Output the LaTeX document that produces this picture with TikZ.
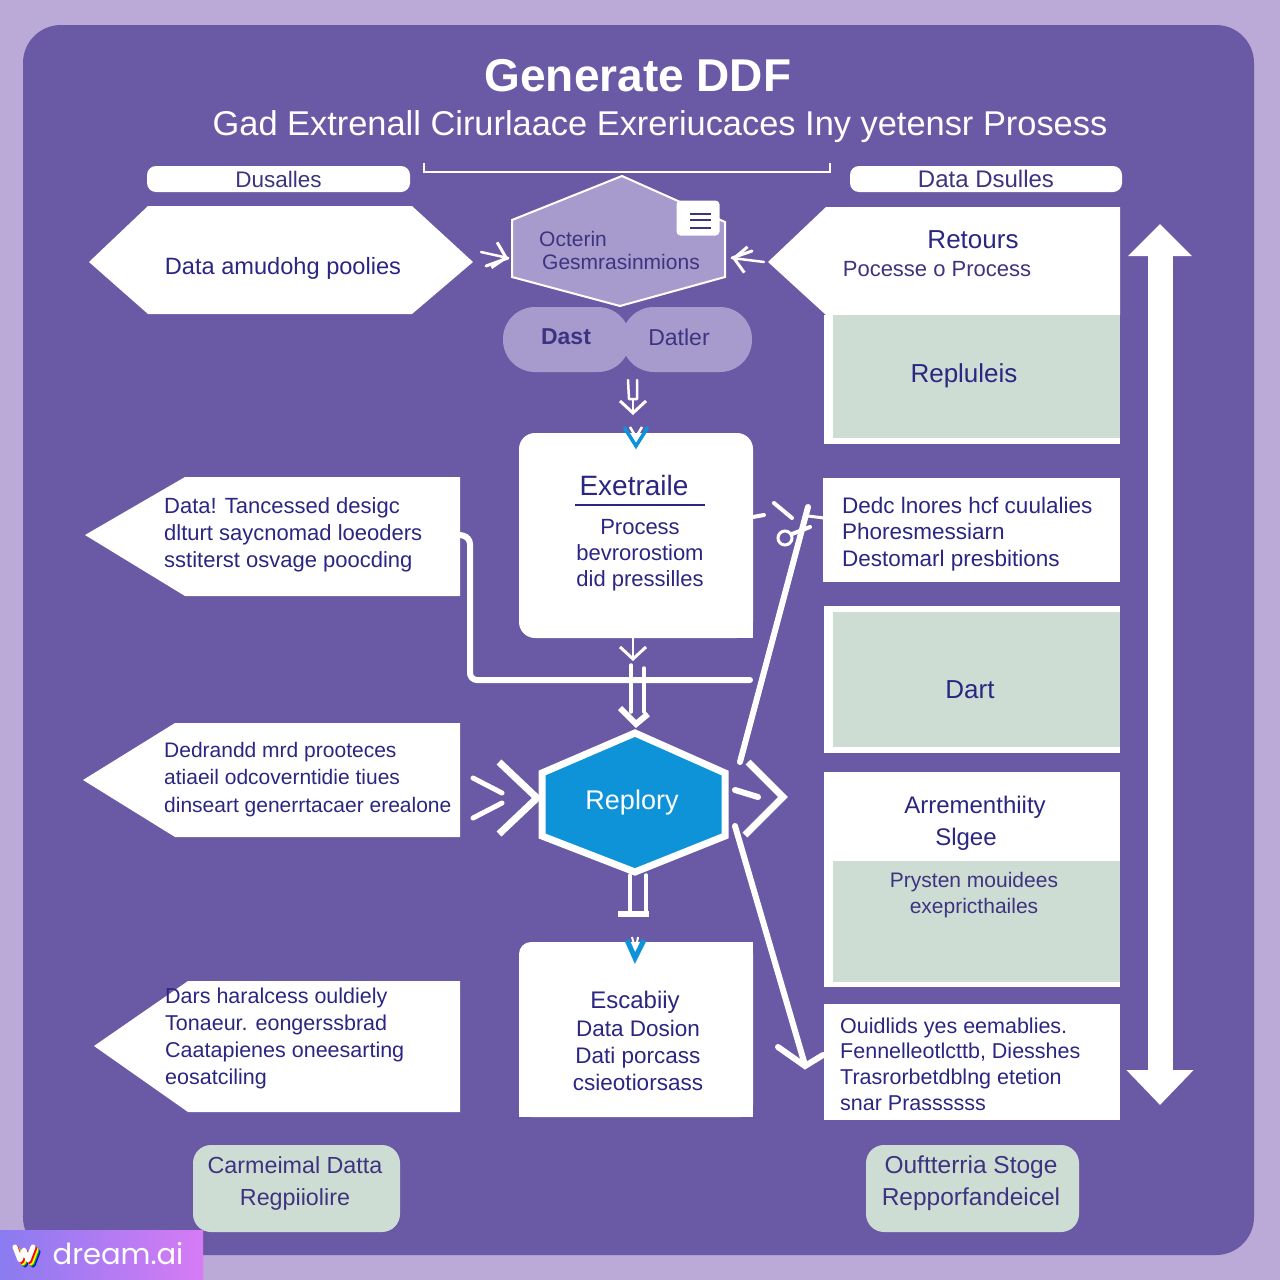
\documentclass[tikz,border=0pt]{standalone}
\usepackage{fontspec}
\setmainfont{Liberation Sans}
\newfontfamily\logofont{Poppins}
\usetikzlibrary{arrows.meta}
\definecolor{PageBg}{HTML}{BBA9D7}
\definecolor{PanelBg}{HTML}{6A59A4}
\definecolor{HexLilac}{HTML}{A79BCE}
\definecolor{HexBlue}{HTML}{0E93D8}
\definecolor{SoftGreen}{HTML}{CDDDD3}
\definecolor{InkNavy}{HTML}{2B2682}
\definecolor{InkMuted}{HTML}{3D3480}
\definecolor{WmLeft}{HTML}{8A7BF0}
\definecolor{WmRight}{HTML}{D67BF5}
\tikzset{
	MyPixels/.style={x=1pt,y=-1pt},
	MyText/.style={text=InkNavy,inner sep=0pt,align=center,font=\fontsize{#1}{#1}\selectfont},
	MyLines/.style={text=InkNavy,inner sep=0pt,align=left,anchor=west},
	MyPill/.style={fill=white,rounded corners=9pt,inner sep=0pt,text=InkMuted},
	MyBox/.style={fill=white,inner sep=0pt},
	MyGreen/.style={fill=SoftGreen,inner sep=0pt},
	MyLink/.style={draw=white,line width=6pt,line cap=round},
	MyThin/.style={draw=white,line width=2.5pt,line cap=round,line join=round},
	MyBarb/.style={MyThin,-{Straight Barb[length=12pt,width=26pt,line width=3pt]}}
		}
\begin{document}
\begin{tikzpicture}[MyPixels]
	\useasboundingbox (0,0) rectangle (1280,1280);
	\fill[PageBg] (0,0) rectangle (1280,1280);
	\fill[PanelBg,rounded corners=38pt] (23,25) rectangle (1254,1255);

	% title
	\node (Title) [inner sep=0pt,text=white,font=\bfseries\fontsize{46}{46}\selectfont] at (638,76) {Generate DDF};
	\node (SubTitle) [inner sep=0pt,text=white,font=\fontsize{34.4}{34.4}\selectfont] at (660,127)
		{Gad Extrenall Cirurlaace Exreriucaces Iny yetensr Prosess};
	\draw[white,line width=1.5pt] (424,163)--(424,172)--(830,172)--(830,163);
	\node (PillL) [MyPill,font=\fontsize{22.5}{22.5}\selectfont,minimum width=263pt,minimum height=26pt] at (278.5,179) {Dusalles};
	\node (PillR) [MyPill,font=\fontsize{24}{24}\selectfont,minimum width=272pt,minimum height=26pt] at (986,179) {Data Dsulles};

	% left pentagons
	\fill[white] (89,262)--(148,206)--(412,206)--(473,262)--(412,314)--(148,314)--cycle;
	\foreach \nm/\tx/\ty/\ny/\ya/\yb in {B/85/535/185/477/596,C/83/780/175/723/837,D/94/1046/188/981/1112}
		{\coordinate (Tip\nm) at (\tx,\ty);
		\coordinate (End\nm) at (460,\ty);
		\fill[white] (Tip\nm)--(\ny,\ya)--(460,\ya)--(460,\yb)--(\ny,\yb)--cycle;
		}
	\node (HexL) [MyText=23.6] at (283,268) {Data amudohg poolies};
	\node (TxtB) [MyLines,font=\fontsize{22}{27}\selectfont] at (164,534.5) {Data! Tancessed desigc\\ dlturt saycnomad loeoders\\ sstiterst osvage poocding};
	\node (TxtC) [MyLines,font=\fontsize{21}{27.5}\selectfont] at (164,779.5) {Dedrandd mrd prooteces\\ atiaeil odcoverntidie tiues\\ dinseart generrtacaer erealone};
	\node (TxtD) [MyLines,font=\fontsize{21.5}{27}\selectfont] at (165,1038.5) {Dars haralcess ouldiely\\ Tonaeur. eongerssbrad\\ Caatapienes oneesarting\\ eosatciling};

	% centre hexagon with its document icon
	\coordinate (HexT) at (622,176);
	\coordinate (HexW) at (508,258);
	\coordinate (HexE) at (732,258);
	\draw[white,line width=2pt,fill=HexLilac] (HexT)--(725,222)--(725,277)--(620,306)--(512,277)--(512,220)--cycle;
	\node (HexA) [MyText=21,text=InkMuted,anchor=west] at (539,239) {Octerin};
	\node (HexB) [MyText=21,text=InkMuted] at (621,262) {Gesmrasinmions};
	\node (DocIcon) [fill=white,rounded corners=4pt,minimum width=43pt,minimum height=35pt,inner sep=0pt] at (698,218) {};
	\foreach \y in {214,220,228}
		{\draw[InkMuted,line width=1.5pt] (690,\y)--(711,\y);}
	\coordinate (ArrA) at (481,252);
	\coordinate (ArrAa) at (486,266);
	\coordinate (ArrB) at (764,262);
	\coordinate (ArrBa) at (752,251);
	\draw[MyBarb] (ArrA)--(HexW);
	\draw[MyThin,line width=3pt] (ArrAa)--(HexW);
	\draw[MyBarb] (ArrB)--(HexE);
	\draw[MyThin,line width=3pt] (ArrBa)--(HexE);

	% pills under the hexagon
	\fill[HexLilac,rounded corners=32pt] (503,307) rectangle (630,372);
	\fill[HexLilac,rounded corners=32pt] (622,307) rectangle (752,372);
	\node (DastL) [MyText=23,text=InkMuted,font=\bfseries\fontsize{23}{23}\selectfont] at (566,337) {Dast};
	\node (DastR) [MyText=23,text=InkMuted] at (679,337) {Datler};
	\coordinate (ArrC) at (633,399);
	\coordinate (ArrD) at (633,415);
	\draw[MyThin] (628,380)--(629,399)--(637,399)--(637,380);
	\draw[MyBarb] (ArrC)--(ArrD);

	% middle column
	\node (BoxExt) [MyBox,rounded corners=16pt,minimum width=234pt,minimum height=205pt] at (636,535.5) {};
	\fill[white] (BoxExt.south east) rectangle +(-20,-20);
	\node (ExtT) [MyText=28] at (634,485) {Exetraile};
	\draw[InkNavy,line width=1.5pt] (575,505)--(705,505);
	\node (ExtL) [MyText=22,font=\fontsize{22}{26}\selectfont] at (640,555.5) {Process\\ bevrorostiom\\ did pressilles};
	\draw[HexBlue,line width=3.5pt] (624,427)--(636,446)--(648,427);
	\draw[white,line width=2.5pt] (630,427)--(636,437)--(642,427);

	\node (BoxEsc) [MyBox,rounded corners=12pt,minimum width=234pt,minimum height=175pt] at (636,1029.5) {};
	\fill[white] (BoxEsc.south east) rectangle +(-20,-20);
	\fill[white] (BoxEsc.south west) rectangle +(20,-20);
	\fill[white] (BoxEsc.north east) rectangle +(-20,20);
	\node (EscT) [MyText=24] at (635,1002) {Escabiiy};
	\node (EscL) [MyText=22.5,font=\fontsize{22.5}{27}\selectfont] at (638,1055) {Data Dosion\\ Dati porcass\\ csieotiorsass};

	% blue hexagon
	\coordinate (BlueT) at (635,733);
	\coordinate (BlueB) at (635,872);
	\draw[white,line width=7pt,fill=HexBlue,line join=miter] (BlueT)--(725,773)--(725,836)--(BlueB)--(542,836)--(542,773)--cycle;
	\node (BlueL) [MyText=27,text=white] at (632,803) {Replory};

	% connectors of the middle column
	\coordinate (ElbA) at (470,537);
	\coordinate (ElbB) at (470,680);
	\coordinate (ElbC) at (750,680);
	\draw[MyLink,rounded corners=7pt] (EndB)--(ElbA)--(ElbB)--(ElbC);
	\coordinate (ArrE) at (633,661);
	\draw[MyBarb] (BoxExt.south-|ArrE)--(ArrE);
	\draw[MyThin,line width=3.5pt] (631,665)--(631,712) (644,668)--(644,712);
	\draw[white,line width=6pt,line join=miter] (620,708)--(636,724)--(648,714);
	\draw[MyThin,line width=3.5pt] (630,875)--(630,914) (646,875)--(646,914);
	\draw[white,line width=6pt] (618,914)--(649,914);
	\draw[HexBlue,line width=5pt] (627,940)--(635,958)--(644,940);
	\draw[white,line width=2pt] (632,937)--(635,948) (638,937)--(636,948);

	% chevrons left and right of the blue hexagon
	\draw[white,line width=7pt,line join=miter] (499,762)--(537,798)--(499,834);
	\draw[white,line width=5pt,line cap=round] (473,778)--(502,793) (473,818)--(502,803);
	\draw[white,line width=7pt,line join=miter] (748,762)--(783,797)--(745,835);
	\draw[white,line width=6pt,line cap=round] (735,790)--(758,797);
	\coordinate (LineA) at (740,762);
	\coordinate (LineB) at (808,507);
	\coordinate (LineC) at (735,826);
	\coordinate (LineD) at (805,1065);
	\draw[MyLink] (LineA)--(LineB);
	\draw[MyLink] (LineC)--(LineD);
	\draw[white,line width=6pt,line cap=round,line join=miter] (778,1047)--(805,1066)--(823,1055);
	\draw[white,line width=3pt] (785,538) circle (7pt);
	\draw[white,line width=4pt,line cap=round] (774,503)--(792,518) (753,517)--(764,515) (792,534)--(810,527);
	\draw[white,line width=3pt] (808,516)--(824,518);

	% right column
	\fill[white] (768,262)--(826,207)--(1120,207)--(1120,315)--(826,315)--cycle;
	\node (RetT) [MyText=26] at (973,240) {Retours};
	\node (RetL) [MyText=22,text=InkMuted] at (937,269) {Pocesse o Process};
	\node (BoxRep) [MyBox,minimum width=296pt,minimum height=129pt] at (972,379.5) {};
	\fill[SoftGreen] (833,315) rectangle (1120,438);
	\node (RepT) [MyText=26] at (964,376) {Repluleis};
	\node (BoxDed) [MyBox,minimum width=297pt,minimum height=104pt] at (971.5,530) {};
	\node (DedT) [MyLines,font=\fontsize{22.5}{26.5}\selectfont] at (842,534) {Dedc lnores hcf cuulalies\\ Phoresmessiarn\\ Destomarl presbitions};
	\node (BoxDat) [MyBox,minimum width=296pt,minimum height=147pt] at (972,679.5) {};
	\fill[SoftGreen] (833,612) rectangle (1120,747);
	\node (DatT) [MyText=26] at (970,690) {Dart};
	\node (BoxArr) [MyBox,minimum width=296pt,minimum height=215pt] at (972,879.5) {};
	\fill[SoftGreen] (833,861) rectangle (1120,982);
	\node (ArrT) [MyText=24] at (975,807) {Arrementhiity};
	\node (ArrU) [MyText=24] at (966,839) {Slgee};
	\node (ArrL) [MyText=21,text=InkMuted,font=\fontsize{21}{26}\selectfont] at (974,895) {Prysten mouidees\\ exepricthailes};
	\node (BoxOui) [MyBox,minimum width=296pt,minimum height=116pt] at (972,1062) {};
	\node (OuiT) [MyLines,font=\fontsize{21.5}{25.7}\selectfont] at (840,1064) {Ouidlids yes eemablies.\\ Fennelleotlcttb, Diesshes\\ Trasrorbetdblng etetion\\ snar Prassssss};

	% long double arrow
	\coordinate (BigT) at (1160,224);
	\coordinate (BigB) at (1160,1105);
	\draw[white,line width=25pt,{Triangle[length=32pt,width=62pt]}-{Triangle[length=35pt,width=65pt]}] (BigT)--(BigB);

	% bottom boxes
	\node (NoteL) [MyGreen,rounded corners=18pt,minimum width=207pt,minimum height=87pt] at (296.5,1188.5) {};
	\node (NoteLT) [MyText=23.3,text=InkMuted,font=\fontsize{23.3}{32}\selectfont] at (295,1183) {Carmeimal Datta\\ Regpiiolire};
	\node (NoteR) [MyGreen,rounded corners=18pt,minimum width=213pt,minimum height=87pt] at (972.5,1188.5) {};
	\node (NoteRT) [MyText=24.5,text=InkMuted,font=\fontsize{24.5}{32}\selectfont] at (971,1183) {Ouftterria Stoge\\ Repporfandeicel};

	% watermark, the logo is drawn
	\shade[left color=WmLeft,right color=WmRight] (0,1230) rectangle (203,1280);
	\foreach \cc/\off in {blue/5,green!70!black/4,yellow/3,red/1.5,white/0}
		{\draw[\cc,line width=5pt,line cap=round,line join=round] (15+\off,1247+\off)--(20+\off,1260+\off)--(24+\off,1250+\off)--(28+\off,1260+\off)--(33+\off,1247+\off);}
	\node (WmT) [inner sep=0pt,text=white,font=\logofont\fontsize{29}{29}\selectfont] at (118,1254) {dream.ai};
\end{tikzpicture}
\end{document}
